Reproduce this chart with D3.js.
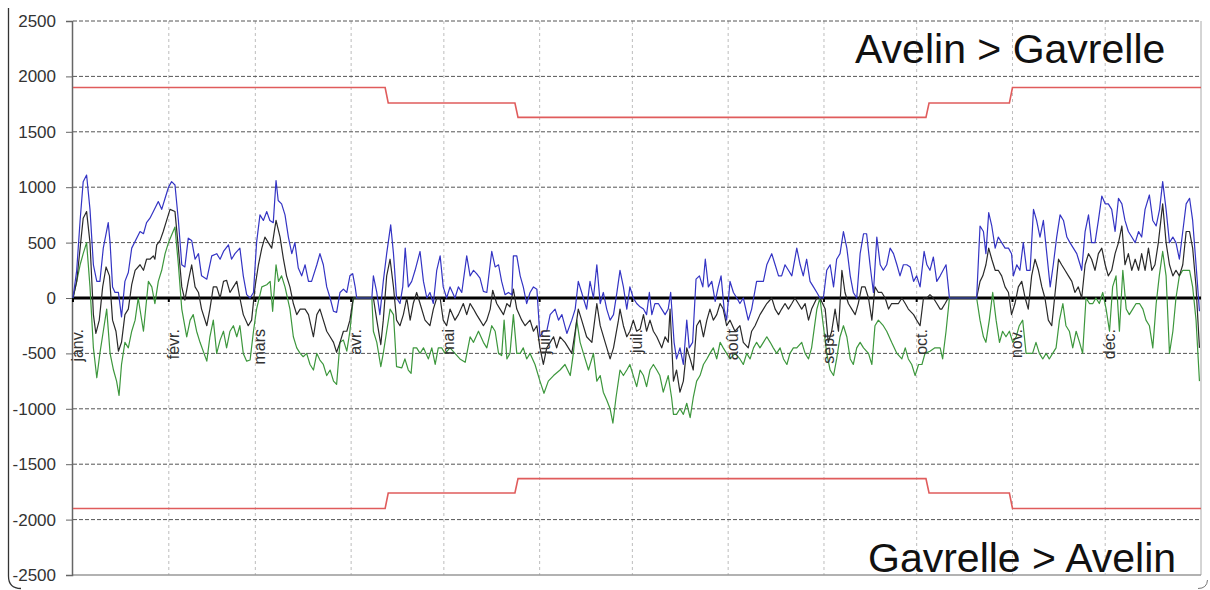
<!DOCTYPE html>
<html>
<head>
<meta charset="utf-8">
<script src="https://d3js.org/d3.v7.min.js"></script>
<style>
  body { margin: 0; background: #fff; }
  text { font-family: "Liberation Sans", Arial, sans-serif; }
</style>
</head>
<body>
<div id="vis"></div>
<script>

// month starts (day of year) and labels
var monthStarts = [0, 31, 59, 90, 120, 151, 181, 212, 243, 273, 304, 334];
var monthLabels = ["janv.", "févr.", "mars", "avr.", "mai", "juin", "juil.", "août", "sept.", "oct.", "nov.", "déc."];
var yTicks = [-2500, -2000, -1500, -1000, -500, 0, 500, 1000, 1500, 2000, 2500];

// capacity limits [day, MW]
var limitUp = [[0,1900],[101,1900],[102,1760],[143,1760],[144,1630],[276,1630],[277,1760],[303,1760],[304,1900],[365,1900]];
var limitDown = [[0,-1900],[101,-1900],[102,-1760],[143,-1760],[144,-1630],[276,-1630],[277,-1760],[303,-1760],[304,-1900],[365,-1900]];

// daily flows [day, MW]
var maxFlow = [[0,0],[1.2,250],[2.3,700],[3.3,1050],[4.4,1110],[5.5,800],[6.6,300],[7.7,150],[8.7,150],[9.8,450],[11.4,680],[12,500],[12.8,100],[13.6,50],[14.7,50],[15.7,-170],[16.8,150],[17.9,230],[19,450],[21.7,600],[22.8,580],[23.8,680],[24.9,720],[26,780],[27.6,870],[28.7,800],[29.8,900],[30.9,1000],[31.9,1050],[33,1020],[34.1,700],[35.2,300],[36.2,280],[37.3,540],[38.4,520],[39.5,350],[40.6,400],[41.6,200],[43.3,170],[44.9,380],[46.5,400],[47.6,350],[48.7,420],[50.3,480],[51.3,350],[52.4,400],[54,450],[55.1,200],[56.2,30],[57.3,0],[58.4,50],[59.4,500],[60.5,750],[61.6,700],[62.7,780],[63.7,700],[64.8,680],[65.7,1060],[66.4,880],[67.5,850],[68.6,750],[69.7,550],[70.8,400],[71.8,500],[72.9,270],[74,200],[75.1,300],[76.2,150],[77.2,150],[78.9,300],[79.9,400],[81,300],[82.1,100],[83.2,0],[84.3,-120],[85.3,-130],[86.4,50],[87.5,80],[88.6,50],[89.6,200],[90.5,220],[91.3,100],[91.8,0],[96.7,0],[97.2,200],[98.3,50],[99.3,-150],[100.4,150],[101.5,400],[102.8,660],[103.7,400],[104.7,0],[105.8,-50],[106.7,100],[107.5,450],[108.5,100],[109.6,150],[110.7,250],[112.3,420],[113.4,150],[114.5,0],[115.5,50],[116.6,-50],[117.7,250],[118.8,380],[119.8,100],[120.9,0],[122,100],[123.6,0],[124.7,100],[125.8,50],[127.4,380],[128.5,200],[129.6,250],[130.6,220],[131.7,180],[132.8,60],[133.9,50],[135.5,420],[136.6,280],[137.7,300],[138.7,150],[139.8,30],[140.9,50],[142,30],[142.5,380],[143.6,380],[144.7,200],[145.7,100],[146.8,-50],[147.9,50],[149,100],[150.1,80],[151.1,-350],[152.2,-300],[153.3,-300],[154.4,-150],[156,-100],[157.1,-200],[158.2,-150],[159.8,-320],[161.4,-200],[162.5,-100],[163.5,150],[164.6,50],[166.2,-100],[167.3,150],[168.4,0],[169.5,300],[170.6,-50],[171.6,50],[172.7,-100],[173.8,-200],[174.9,-150],[176,50],[177,250],[178.1,100],[179.2,-100],[180.2,100],[181.3,0],[182.4,-50],[183.5,-80],[184.6,-100],[185.6,-150],[186.5,50],[187.3,-150],[188.3,-50],[189.4,-50],[190.5,-100],[191.6,-150],[192.6,-100],[193.4,50],[194.5,-400],[195.3,-550],[196.4,-450],[197.5,-600],[198.6,-200],[199.4,-450],[200.5,-400],[201.6,170],[202.7,200],[203.8,100],[204.6,350],[205.6,100],[206.7,150],[207.8,-30],[208.8,100],[209.7,200],[210.7,-100],[211.5,-200],[212.6,150],[213.7,50],[214.8,0],[215.8,-50],[216.9,0],[218.5,-200],[219.6,-100],[221.2,150],[222.3,150],[223.4,150],[224.5,300],[226.1,400],[227.2,300],[228.3,200],[229.3,200],[230.4,300],[231.5,250],[232.6,200],[234.2,450],[235.3,300],[236.3,200],[237.4,350],[238.5,150],[239.6,100],[240.7,50],[241.7,0],[242.8,0],[243.9,250],[245,300],[246.1,100],[247.1,350],[248.2,400],[249.3,600],[250.4,450],[251.5,200],[252.5,50],[253.6,0],[254.7,400],[255.8,580],[256.8,580],[257.9,300],[259,50],[260.1,550],[261.2,300],[262.2,250],[263.3,300],[264.4,450],[265.5,400],[266.6,300],[267.6,200],[268.7,300],[269.8,300],[270.9,280],[272,150],[273,200],[274.1,100],[275.4,420],[276.3,300],[277.3,250],[278.4,370],[279.5,150],[280.6,200],[282.5,300],[283.6,0],[292.4,0],[293.5,650],[294.6,600],[295.4,400],[296.3,770],[297.3,650],[298.4,450],[299.4,550],[300.5,500],[301.6,450],[302.7,450],[303.7,400],[304.3,200],[305.4,300],[306.4,250],[307.5,500],[308.6,250],[309.7,250],[310.8,800],[311.8,700],[312.9,550],[314,700],[315.1,400],[316.2,100],[317.2,300],[318.3,550],[319.4,750],[320.5,700],[321.6,550],[322.6,500],[323.7,450],[324.8,400],[325.9,300],[326.4,250],[327.5,600],[328.6,750],[329.6,500],[330.7,500],[331.8,700],[332.9,920],[334,850],[335,850],[336.1,800],[337.2,600],[338.3,900],[339.4,850],[340.4,700],[341.5,600],[342.6,550],[343.7,500],[344.8,600],[345.8,550],[346.9,800],[348.3,930],[349.4,700],[350.5,650],[351.6,800],[352.6,1050],[353.7,800],[354.8,500],[355.9,550],[356.9,500],[358,350],[359.1,600],[360.2,850],[361.3,900],[362.3,700],[363.4,300],[364.5,-120]];

var meanFlow = [[0,0],[1.2,150],[2.3,450],[3.3,720],[4.4,780],[5.5,500],[6.6,-150],[7.4,-320],[8.5,-200],[9.6,100],[10.7,280],[11.8,200],[12.8,-200],[13.9,-300],[14.7,-480],[15.7,-400],[16.8,-150],[17.9,-100],[19,120],[20.1,250],[21.7,300],[22.8,250],[23.8,350],[24.9,350],[26,380],[26.5,350],[27.1,480],[28.2,520],[29.2,600],[30.3,700],[31.4,800],[33,780],[34.1,450],[35.2,100],[36.2,-20],[37.3,150],[38.4,300],[39.5,100],[40.6,50],[41.6,-100],[43.3,-250],[44.3,-100],[45.4,100],[46.5,100],[47.6,0],[48.7,150],[49.7,160],[50.8,50],[51.9,100],[53,150],[54,0],[55.1,-150],[56.7,-250],[57.8,-200],[58.9,100],[60,300],[61.1,450],[62.1,550],[63.2,500],[64.3,450],[65.7,700],[67,550],[68.1,350],[69.1,200],[70.2,100],[71.3,-50],[72.4,-150],[73.5,-100],[75.1,-100],[76.2,-150],[77.8,-350],[78.9,-150],[79.9,-100],[81,-200],[82.1,-300],[83.2,-350],[84.3,-400],[85.3,-490],[86.4,-400],[87.5,-300],[88.6,-300],[89.6,-200],[90.7,0],[96.7,0],[97.2,0],[98.3,-200],[99.6,-420],[100.4,-200],[101.5,200],[102.6,350],[103.7,100],[104.7,-200],[105.8,-250],[106.9,-150],[108,0],[109.1,-200],[110.1,-50],[111.2,50],[112.3,-50],[113.9,-200],[115.5,-250],[116.6,-100],[117.7,0],[118.8,0],[119.8,-200],[120.9,-250],[122,-100],[123.6,-200],[124.7,-150],[126.3,-50],[127.4,-150],[128.5,-50],[129.6,-100],[130.6,-150],[131.7,-200],[132.8,-250],[133.9,-200],[135,-100],[135.8,70],[137.1,-50],[138.2,-100],[139.3,-150],[140.4,-50],[141.4,-80],[142.5,80],[143.6,-100],[145.2,-200],[146.3,-250],[147.9,-200],[149,-300],[150.1,-250],[151.1,-450],[152.2,-600],[153.3,-450],[154.4,-400],[155.5,-350],[156.5,-450],[157.6,-350],[159.2,-400],[161.4,-500],[162.5,-300],[163.5,-100],[164.6,-200],[166.2,-350],[167.9,-400],[169.5,-50],[170.6,-250],[172.2,-400],[173.8,-550],[174.9,-450],[176.5,-200],[177,-100],[178.1,-250],[179.2,-350],[180.2,-300],[181.3,-200],[182.4,-300],[183.5,-280],[184.6,-150],[185.6,-300],[186.7,-200],[187.8,-300],[188.9,-350],[190.5,-450],[191.6,-350],[192.6,-400],[193.2,-100],[194.3,-750],[195.3,-650],[196.4,-850],[197.5,-750],[198.6,-450],[199.7,-550],[200.7,-650],[201.8,-250],[202.9,-200],[204,-350],[205.1,-200],[206.1,-100],[207.2,-200],[208.3,-150],[209.4,-50],[210.4,-100],[211.5,-250],[212.6,-200],[214.2,-300],[215.8,-250],[216.9,-400],[218.5,-450],[219.6,-300],[220.7,-250],[222.3,-150],[223.4,-100],[224.5,-50],[226.1,0],[227.2,-100],[228.3,-150],[229.3,-100],[230.4,-50],[231.5,-100],[232.6,-50],[233.6,0],[234.7,-50],[235.8,-100],[236.9,-50],[238,-200],[239,-100],[240.7,0],[241.7,0],[243.4,-100],[244.4,-400],[245.5,-300],[246.6,-100],[247.7,-300],[248.8,250],[249.8,50],[250.9,-50],[252,-100],[253.1,-150],[254.1,-50],[255.2,100],[256.3,100],[257.4,0],[258.5,-200],[259.5,100],[260.6,50],[261.7,50],[262.8,0],[263.9,-100],[264.9,-50],[266,-50],[267.1,-50],[268.2,0],[269.3,-50],[270.3,-100],[272,-150],[273,-200],[274.1,-250],[275.2,0],[276.3,0],[277.3,30],[278.4,0],[279.5,-50],[280.6,-100],[281.1,-100],[282.2,-50],[283.2,0],[292.4,0],[293.5,150],[294.4,200],[295.4,300],[296.3,450],[297.3,350],[298.4,250],[299.4,250],[300.5,200],[301.6,100],[302.7,50],[303.7,-150],[304.8,-50],[305.9,100],[307,150],[308.1,0],[309.1,-100],[310.2,200],[311.3,350],[312.4,250],[313.5,100],[314.5,0],[315.6,-200],[316.7,-250],[317.8,50],[318.9,350],[319.9,300],[321,250],[322.1,200],[323.2,150],[324.2,50],[325.3,100],[326.4,0],[327.5,300],[328.6,400],[329.6,350],[330.7,250],[331.8,400],[332.9,450],[334,300],[335,200],[336.1,250],[337.2,400],[338.3,500],[339.4,650],[340.4,300],[341.5,400],[342.6,250],[343.7,350],[344.8,250],[345.8,400],[346.9,250],[348,450],[349.1,250],[350.1,300],[351.2,500],[352.6,850],[353.7,500],[354.8,300],[355.9,200],[356.9,250],[358,200],[359.1,300],[360.2,600],[361.3,600],[362.3,450],[363.4,100],[364.5,-450]];

var minFlow = [[0,0],[1.2,150],[2.3,300],[3.3,400],[4.4,500],[5.5,100],[6.6,-450],[7.7,-720],[8.7,-500],[9.8,-300],[10.9,-100],[12,-500],[13.1,-650],[14.1,-750],[14.9,-880],[15.7,-600],[16.8,-400],[17.9,-450],[19,-300],[20.1,-200],[21.1,0],[22.8,-300],[24.4,150],[25.5,100],[26.5,-50],[27.6,150],[28.7,250],[29.8,400],[30.9,500],[33,640],[34.1,300],[35.2,-100],[36.8,-350],[37.9,-200],[38.9,-150],[40,-300],[41.1,-400],[43.3,-570],[44.3,-350],[45.4,-200],[46.5,-500],[47.6,-380],[48.7,-300],[49.7,-450],[50.8,-300],[51.9,-250],[53,-350],[54,-250],[55.1,-500],[56.2,-570],[57.3,-560],[58.4,-300],[59.4,-100],[61.1,100],[62.7,120],[63.8,150],[64.6,-120],[65.7,300],[66.5,150],[67.5,200],[68.6,100],[70.2,-100],[71.3,-350],[72.4,-450],[73.5,-500],[74.5,-530],[75.6,-500],[76.7,-600],[77.8,-650],[78.9,-500],[79.9,-560],[81,-600],[82.1,-700],[83.2,-650],[84.3,-750],[85.3,-780],[86.4,-400],[87.5,-380],[88.6,-480],[89.6,-300],[90.7,0],[96.7,0],[97.2,-300],[98.3,-400],[99.6,-620],[100.4,-500],[101.5,-300],[102.6,-100],[103.7,-150],[104.7,-620],[106.4,-630],[107.4,-550],[108.5,-650],[109.4,-680],[110.1,-450],[111.2,-450],[112.3,-500],[113.4,-450],[115,-550],[116.1,-450],[117.2,-600],[118.2,-450],[119.3,-450],[120.4,-500],[122,-450],[123.6,-500],[125.2,-550],[126.9,-580],[128.5,-350],[129.6,-400],[131.2,-300],[132.8,-400],[133.9,-450],[135.5,-250],[136.6,-300],[137.7,-500],[138.7,-520],[139.5,-200],[140.4,-550],[141.4,-500],[142.5,-150],[143.6,-500],[144.7,-500],[145.7,-450],[146.8,-550],[147.9,-500],[149.5,-600],[151.1,-750],[152.4,-860],[153.8,-750],[155.5,-700],[157.6,-650],[159.2,-600],[160.9,-700],[161.9,-500],[163,-200],[164.1,-400],[165.7,-550],[166.8,-650],[168.4,-500],[169.5,-750],[170.6,-700],[171.6,-850],[172.7,-920],[173.8,-1000],[174.7,-1130],[175.7,-900],[177,-650],[178.1,-700],[179.2,-650],[180.2,-600],[181.3,-700],[182.4,-800],[183.5,-650],[184.6,-700],[185.6,-800],[186.7,-650],[187.8,-600],[188.9,-650],[189.9,-700],[191,-850],[192.6,-700],[193.7,-900],[194.3,-1050],[195.3,-1050],[196.4,-1000],[197.5,-1050],[198.6,-950],[199.7,-1080],[200.7,-900],[201.8,-750],[202.9,-700],[204,-600],[205.1,-550],[206.1,-500],[207.2,-450],[208.3,-550],[209.4,-400],[210.4,-450],[211.5,-500],[212.6,-550],[214.2,-500],[215.8,-550],[216.9,-600],[218,-500],[219.1,-550],[220.2,-450],[221.2,-400],[222.3,-450],[223.4,-400],[224.5,-350],[225.6,-400],[226.6,-450],[227.7,-500],[228.8,-450],[229.9,-550],[231,-600],[232,-500],[233.1,-450],[234.2,-450],[235.8,-400],[236.9,-500],[238,-550],[239,-450],[240.7,-100],[241.7,0],[242.8,-250],[243.9,-500],[245,-650],[246.1,-700],[247.1,-550],[248.2,-350],[249.3,-250],[250.4,-350],[251.5,-550],[252.5,-600],[253.6,-450],[254.7,-400],[255.8,-450],[257.4,-500],[258.5,-600],[259.5,-250],[260.6,-200],[262.2,-250],[263.3,-300],[264.9,-400],[266.6,-500],[268.2,-550],[269.3,-450],[270.3,-550],[271.4,-600],[272.5,-700],[273.6,-600],[274.7,-600],[275.7,-500],[277.3,-480],[278.9,-450],[280.6,-450],[281.4,-550],[282.5,-300],[283.6,0],[292.4,0],[293.5,-200],[294.6,-350],[295.4,-400],[296.5,-200],[297.6,50],[298.7,-200],[299.8,-400],[300.8,-300],[301.9,-350],[303,-300],[304.1,-400],[305.2,-350],[306.2,-250],[307.3,-200],[308.4,-500],[309.5,-500],[310.5,-500],[311.6,-400],[312.7,-500],[313.8,-550],[314.9,-500],[315.9,-550],[317,-500],[318.1,-450],[319.2,-200],[320.3,-50],[321.3,-250],[322.4,-300],[323.5,-450],[324.6,-300],[325.7,-400],[326.7,-500],[327.8,0],[328.9,-50],[330,-50],[331,0],[332.1,-50],[333.2,50],[334.3,-100],[335.4,-300],[336.4,100],[337.5,200],[338.6,-300],[339.7,250],[340.8,-100],[341.8,-150],[342.9,-100],[344,-50],[345.1,-50],[346.2,-100],[347.2,-200],[348.3,-250],[349.4,-450],[350.5,-50],[351.5,200],[352.6,420],[353.7,200],[354.8,-500],[355.9,-300],[356.9,0],[358,200],[359.1,250],[360.2,250],[361.3,250],[362.3,100],[363.4,-200],[364.5,-750]];

var titleUp = "Avelin > Gavrelle";
var titleDown = "Gavrelle > Avelin";


var width = 1210, height = 590;

var svg = d3.select("#vis").append("svg")
  .attr("width", width)
  .attr("height", height);

var x = d3.scaleLinear().domain([0, 365]).range([73, 1201]);
var y = d3.scaleLinear().domain([-2500, 2500]).range([575, 21]);

// outer frame (only left side and corners show)
svg.append("path")
  .attr("d", "M8.5,8 V576 Q8.5,588.5 21,588.5")
  .attr("fill", "none").attr("stroke", "#333").attr("stroke-width", 1.3);
svg.append("path")
  .attr("d", "M1198,588.5 Q1207,588.5 1207.5,580")
  .attr("fill", "none").attr("stroke", "#777").attr("stroke-width", 1);

// vertical month grid
svg.append("g").selectAll("line")
  .data(monthStarts.slice(1))
  .enter().append("line")
  .attr("x1", d => x(d)).attr("x2", d => x(d))
  .attr("y1", y(2500)).attr("y2", y(-2500))
  .attr("stroke", "#bdbdbd").attr("stroke-dasharray", "3,3");

// horizontal grid
svg.append("g").selectAll("line")
  .data(yTicks.filter(d => d > -2500))
  .enter().append("line")
  .attr("x1", x(0)).attr("x2", x(365))
  .attr("y1", d => y(d)).attr("y2", d => y(d))
  .attr("stroke", "#555").attr("stroke-dasharray", "4,2");

// right frame and bottom axis
svg.append("line")
  .attr("x1", x(365)).attr("x2", x(365)).attr("y1", y(2500)).attr("y2", y(-2500))
  .attr("stroke", "#aaa");
svg.append("line")
  .attr("x1", x(0) - 1).attr("x2", x(365)).attr("y1", y(-2500)).attr("y2", y(-2500))
  .attr("stroke", "#999").attr("stroke-width", 1.3);

// y axis
var yAxis = svg.append("g")
  .attr("transform", "translate(" + (x(0) - 1) + ",0)")
  .call(d3.axisLeft(y).tickValues(yTicks).tickSize(6).tickPadding(10).tickFormat(d => String(d)));
yAxis.select(".domain").attr("stroke", "#666").attr("stroke-width", 1.5);
yAxis.selectAll(".tick line").attr("stroke", "#666");
yAxis.selectAll(".tick text")
  .attr("fill", "#333")
  .style("font-size", "17px")
  .style("font-family", "'Liberation Sans', Arial, sans-serif");

// limits
var line = d3.line().x(d => x(d[0])).y(d => y(d[1]));
[limitUp, limitDown].forEach(function(s) {
  svg.append("path").datum(s)
    .attr("d", line)
    .attr("fill", "none")
    .attr("stroke", "#e05c5c")
    .attr("stroke-width", 1.6);
});

// zero line with month ticks
svg.append("line")
  .attr("x1", x(0)).attr("x2", x(365)).attr("y1", y(0)).attr("y2", y(0))
  .attr("stroke", "#000").attr("stroke-width", 3);
svg.append("g").selectAll("line")
  .data(monthStarts)
  .enter().append("line")
  .attr("x1", d => x(d)).attr("x2", d => x(d))
  .attr("y1", y(0)).attr("y2", y(0) + 4)
  .attr("stroke", "#000").attr("stroke-width", 2);

// flows
var series = [
  {data: minFlow, color: "#3d973d"},
  {data: meanFlow, color: "#2a2a2a"},
  {data: maxFlow, color: "#3434c4"}
];
series.forEach(function(s) {
  svg.append("path").datum(s.data)
    .attr("d", line)
    .attr("fill", "none")
    .attr("stroke", s.color)
    .attr("stroke-width", 1.2)
    .attr("stroke-linejoin", "round");
});

// month labels
svg.append("g").selectAll("text")
  .data(monthStarts)
  .enter().append("text")
  .attr("transform", d => "translate(" + (x(d) + 10) + "," + (y(0) + 31) + ") rotate(-90)")
  .attr("text-anchor", "end")
  .attr("fill", "#333")
  .style("font-size", "16px")
  .text((d, i) => monthLabels[i]);

// direction titles
svg.append("text")
  .attr("x", 855).attr("y", 63)
  .style("font-size", "41px")
  .attr("fill", "#111")
  .text(titleUp);
svg.append("text")
  .attr("x", 868).attr("y", 572)
  .style("font-size", "41px")
  .attr("fill", "#111")
  .text(titleDown);

</script>
</body>
</html>
